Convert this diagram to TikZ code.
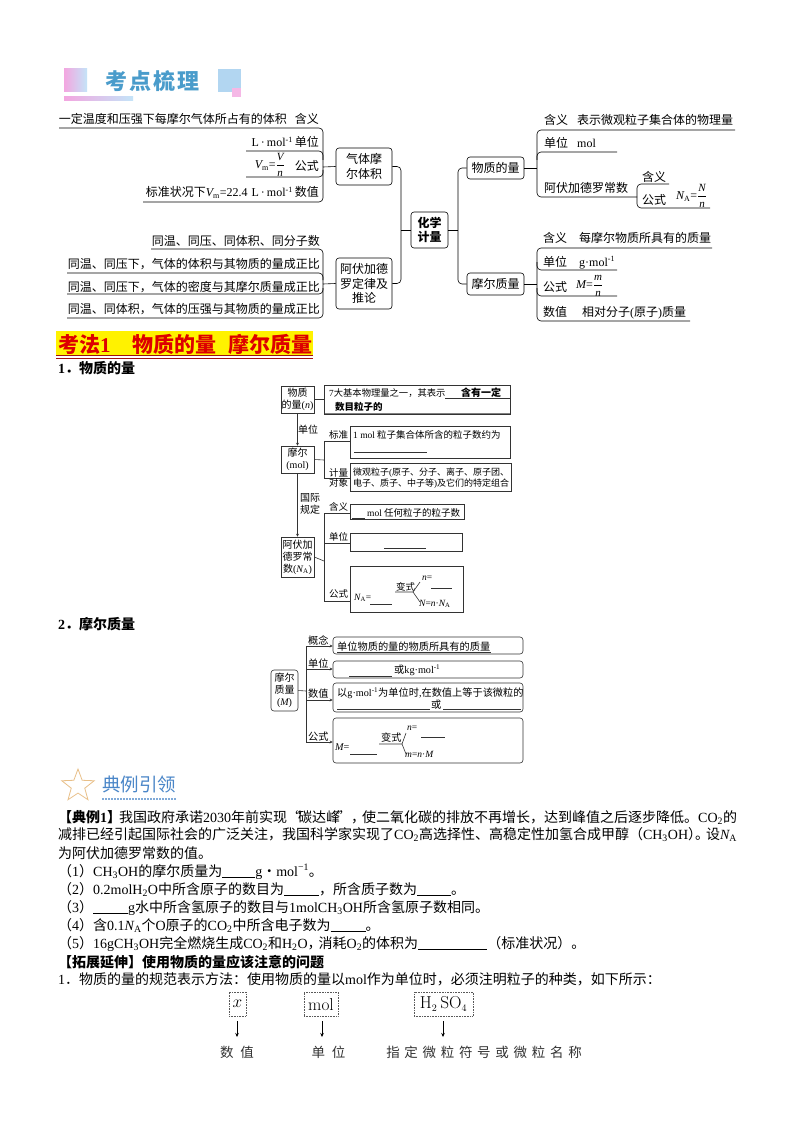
\documentclass[tikz,border=0pt]{standalone}
\usepackage[no-math]{fontspec}
\usepackage{xcolor}
\usepackage{tikz}
\usetikzlibrary{shapes.geometric, arrows.meta, positioning, calc}
\setmainfont{Noto Sans CJK SC}
\newfontfamily\lrfam{Liberation Serif}
\newcommand{\lr}[1]{{\lrfam #1}}
\newcommand{\lri}[1]{{\lrfam\itshape #1}}
\newcommand{\subr}[1]{\textsubscript{\lrfam #1}}
\newcommand{\supz}[1]{\textsuperscript{\lrfam #1}}
\newcommand{\frc}[2]{$\displaystyle\frac{\mbox{\lrfam\itshape\fontsize{11}{11}\selectfont #1}}{\mbox{\lrfam\itshape\fontsize{11}{11}\selectfont #2}}$}
\newcommand{\blk}[1]{\rule[-2pt]{#1pt}{0.6pt}}
\definecolor{titleblue}{HTML}{4A9CCB}
\definecolor{leadblue}{HTML}{4A86C8}
\definecolor{softpink}{HTML}{F3A6E0}
\definecolor{softblue}{HTML}{C4E4F8}
\definecolor{startan}{HTML}{E8BF88}
\definecolor{headred}{HTML}{DD0000}
\definecolor{rulered}{HTML}{A01010}
\tikzset{
  mapbox/.style={draw, rounded corners=3, line width=.6pt, inner sep=0, align=center, font=\fontsize{12}{14.5}\selectfont},
  smallbox/.style={draw=black!80, line width=.6pt, inner sep=0, align=center, font=\fontsize{10}{12}\selectfont},
  sheetbox/.style={draw=black!80, line width=.6pt, inner sep=0},
  softbox/.style={draw=black!80, rounded corners=3, line width=.6pt, inner sep=0},
  branch/.style={rounded corners=4, line width=.6pt},
  thinline/.style={line width=.6pt, black!80},
  tipline/.style={line width=.6pt, black!80, -{Stealth[length=3pt,width=3pt]}},
  maptext/.style={inner sep=0, anchor=base west, font=\fontsize{12}{12}\selectfont},
  mapright/.style={inner sep=0, anchor=base east, font=\fontsize{12}{12}\selectfont},
  sheettext/.style={inner sep=0, anchor=base west, font=\fontsize{9.5}{9.5}\selectfont},
  softtext/.style={inner sep=0, anchor=base west, font=\fontsize{10.2}{10.2}\selectfont},
  bodytext/.style={inner sep=0, anchor=base west, font=\fontsize{14}{14}\selectfont},
  boldtext/.style={inner sep=0, anchor=base west, font=\fontsize{14}{14}\selectfont\bfseries},
  dotbox/.style={draw=black!65, densely dotted, line width=.6pt, inner sep=0},
  wide/.style={inner sep=0, anchor=base, font=\fontsize{13.5}{13.5}\selectfont, black!80},
  arrowdown/.style={line width=.6pt, -{Stealth[length=4pt,width=3.5pt]}},
}

\begin{document}
\begin{tikzpicture}[x=1pt,y=-1pt]
  \useasboundingbox (0,0) rectangle (794,1123);
  \fill[white] (0,0) rectangle (794,1123);

  % Section banner
  \shade[left color=softpink, right color=softblue] (64,69) rectangle (87,92);
  \shade[left color=softpink, right color=softblue] (64,97) rectangle (133,101);
  \fill[softblue!85!leadblue] (218,69) rectangle (241,92);
  \fill[softpink!80] (232,88) rectangle (241,97);
  \node[inner sep=0, anchor=base west, titleblue, font=\fontsize{22}{22}\selectfont\bfseries] (bannertitle) at (105,90) {考\kern2pt 点\kern2pt 梳\kern2pt 理};

  % Central map
  \node[mapbox, font=\fontsize{12}{14.5}\selectfont\bfseries, minimum width=37, minimum height=36] (keybox) at (429.5,230) {化学\\计量};
  \node[mapbox, minimum width=56, minimum height=37] (gasbox) at (364,166.5) {气体摩\\尔体积};
  \node[mapbox, minimum width=56, minimum height=51] (avobox) at (364,283.5) {阿伏加德\\罗定律及\\推论};
  \node[mapbox, minimum width=57, minimum height=22] (amountbox) at (495.5,168) {物质的量};
  \node[mapbox, minimum width=57, minimum height=22] (massbox) at (495.5,284) {摩尔质量};
  \coordinate (leftjoin) at (401,230);
  \coordinate (rightjoin) at (458,230);
  \draw[branch] (gasbox.east) -| (leftjoin) |- (avobox.east);
  \draw[branch] (amountbox.west) -| (rightjoin) |- (massbox.west);
  \draw[line width=.6pt] (leftjoin) -- (keybox.west);
  \draw[line width=.6pt] (keybox.east) -- (rightjoin);

  % Molar volume branch
  \node[mapright] (gastextA) at (287,124) {一定温度和压强下每摩尔气体所占有的体积};
  \node[mapright] (gaslabA) at (319,124) {含义};
  \node[mapright] (gastextB) at (293,147) {\lr{L\,·\,mol}\supz{-1}};
  \node[mapright] (gaslabB) at (319,147) {单位};
  \node[mapright] (gastextC) at (285,168.5) {\lri{V}\subr{m}\lr{=}\frc{V}{n}};
  \node[mapright] (gaslabC) at (319,171) {公式};
  \node[mapright] (gastextD) at (293,197) {标准状况下\lri{V}\subr{m}\lr{=22.4\,\,L\,·\,mol}\supz{-1}};
  \node[mapright] (gaslabD) at (319,197) {数值};
  \foreach \name/\x/\y in {gasA/59/128, gasB/323/128, gasC/323/202, gasD/143/202, gasE/246/151, gasF/323/151, gasG/323/160, gasH/246/177, gasI/323/177, gasJ/323/170, gasK/323/167} {
    \coordinate (\name) at (\x,\y);
  }
  \draw[branch] (gasA) -- (gasB) -- (gasC) -- (gasD);
  \draw[branch] (gasE) -- (gasF) -- (gasG);
  \draw[branch] (gasH) -- (gasI) -- (gasJ);
  \draw[line width=.6pt] (gasK) -- (gasbox.west);

  % Avogadro law branch
  \node[mapright] (avotextA) at (320,245) {同温、同压、同体积、同分子数};
  \node[mapright] (avotextB) at (320,268) {同温、同压下，气体的体积与其物质的量成正比};
  \node[mapright] (avotextC) at (320,291) {同温、同压下，气体的密度与其摩尔质量成正比};
  \node[mapright] (avotextD) at (320,313) {同温、同体积，气体的压强与其物质的量成正比};
  \foreach \name/\x/\y in {avoA/151/249, avoB/323/249, avoC/323/318, avoD/67/318, avoE/67/273, avoF/323/273, avoG/323/280, avoH/67/294, avoI/323/294, avoJ/323/288, avoK/323/284} {
    \coordinate (\name) at (\x,\y);
  }
  \draw[branch] (avoA) -- (avoB) -- (avoC) -- (avoD);
  \draw[branch] (avoE) -- (avoF) -- (avoG);
  \draw[branch] (avoH) -- (avoI) -- (avoJ);
  \draw[line width=.6pt] (avoK) -- (avobox.west);

  % Amount of substance branch
  \node[maptext] (amtlabA) at (544,125) {含义};
  \node[maptext] (amttextA) at (577,125) {表示微观粒子集合体的物理量};
  \node[maptext] (amtlabB) at (544,148) {单位};
  \node[maptext] (amttextB) at (577,148) {\lr{mol}};
  \node[maptext] (amttextC) at (544,193) {阿伏加德罗常数};
  \node[maptext] (amtlabD) at (642,182) {含义};
  \node[maptext] (amtlabE) at (642,205) {公式};
  \node[maptext] (amttextE) at (676,199.5) {\lri{N}\subr{A}\lr{=}\frc{N}{n}};
  \foreach \name/\x/\y in {amtA/735/130, amtB/537/130, amtC/537/197, amtD/637/197, amtE/617/152, amtF/537/152, amtG/537/160, amtH/669/184, amtI/637/184, amtJ/637/208, amtK/710/208, amtL/537/168} {
    \coordinate (\name) at (\x,\y);
  }
  \draw[branch] (amtA) -- (amtB) -- (amtC) -- (amtD);
  \draw[branch] (amtE) -- (amtF) -- (amtG);
  \draw[branch] (amtH) -- (amtI) -- (amtJ) -- (amtK);
  \draw[line width=.6pt] (amountbox.east) -- (amtL);

  % Molar mass branch
  \node[maptext] (maslabA) at (543,243) {含义};
  \node[maptext] (mastextA) at (579,243) {每摩尔物质所具有的质量};
  \node[maptext] (maslabB) at (543,266) {单位};
  \node[maptext] (mastextB) at (579,266) {\lr{g·mol}\supz{-1}};
  \node[maptext] (maslabC) at (543,291) {公式};
  \node[maptext] (mastextC) at (576,288.5) {\lri{M}\lr{=}\frc{m}{n}};
  \node[maptext] (maslabD) at (543,316) {数值};
  \node[maptext] (mastextD) at (582,316) {相对分子\lr{(}原子\lr{)}质量};
  \foreach \name/\x/\y in {masA/712/248, masB/537/248, masC/537/321, masD/690/321, masE/617/270, masF/537/270, masG/537/262, masH/617/296, masI/537/296, masJ/537/288, masK/537/284} {
    \coordinate (\name) at (\x,\y);
  }
  \draw[branch] (masA) -- (masB) -- (masC) -- (masD);
  \draw[branch] (masE) -- (masF) -- (masG);
  \draw[branch] (masH) -- (masI) -- (masJ);
  \draw[line width=.6pt] (massbox.east) -- (masK);

  % Method heading
  \fill[yellow] (56,331) rectangle (313,356);
  \node[inner sep=0, anchor=base west, headred, font=\fontsize{21}{21}\selectfont\bfseries] (methodhead) at (58,352) {考法\lr{1}\kern22pt 物质的量\kern12pt 摩尔质量};
  \draw[rulered, line width=.8pt] (56,355.7) -- (313,355.7);
  \draw[rulered, line width=.8pt] (56,358.3) -- (313,358.3);
  \node[boldtext] (partone) at (58,373) {\lr{1}．物质的量};

  % Amount of substance sheet
  \node[smallbox, minimum width=33, minimum height=27] (nbox) at (297.5,399.5) {物质\\的量\lr{(}\lri{n}\lr{)}};
  \node[smallbox, minimum width=33, minimum height=27] (molbox) at (297.5,459.5) {摩尔\\\lr{(mol)}};
  \node[smallbox, minimum width=33, minimum height=40] (nabox) at (297.5,557) {阿伏加\\德罗常\\数\lr{(}\lri{N}\subr{A}\lr{)}};
  \draw[tipline] (nbox) -- (molbox);
  \draw[tipline] (molbox) -- (nabox);
  \node[smallbox, draw=none, anchor=center] (unitlab) at (308,430) {单位};
  \node[smallbox, draw=none, anchor=center] (rulelab) at (310,504) {国际\\规定};

  \node[sheetbox, minimum width=186, minimum height=29] (nmean) at (417,399.5) {};
  \node[sheettext, font=\fontsize{9.3}{9.3}\selectfont] (nmeantextA) at (329,396.5) {\lr{7}大基本物理量之一，其表示};
  \node[sheettext, font=\fontsize{10}{10}\selectfont\bfseries] (nmeantextB) at (461,396) {含有一定};
  \node[sheettext, font=\fontsize{9.5}{9.5}\selectfont\bfseries] (nmeantextC) at (335,410) {数目粒子的};
  \draw[thinline] (445,398) -- (510,398);
  \draw[black!50, line width=.6pt] (325,413) -- (510,413);
  \draw[thinline] (nbox.east) -- (nmean.west);

  \node[sheetbox, minimum width=160, minimum height=32] (stdbox) at (430,442) {};
  \node[sheettext] (stdtext) at (353,438.5) {\lr{1 mol} 粒子集合体所含的粒子数约为};
  \draw[thinline] (354,452) -- (427,452);
  \node[sheetbox, minimum width=161, minimum height=28] (objbox) at (430.5,477) {};
  \node[sheettext, font=\fontsize{9}{9}\selectfont] (objtextA) at (353,475.5) {微观粒子\lr{(}原子、分子、离子、原子团、};
  \node[sheettext, font=\fontsize{9}{9}\selectfont] (objtextB) at (353,486.5) {电子、质子、中子等\lr{)}及它们的特定组合};
  \foreach \name/\x/\y in {molA/324/460, molB/324/441, molC/350/441, molD/324/478, molE/350/478} {
    \coordinate (\name) at (\x,\y);
  }
  \draw[thinline] (molC) -- (molB) -- (molD) -- (molE);
  \draw[thinline] (molbox.east) -- (molA);
  \node[sheettext] (stdlab) at (329,438.5) {标准};
  \node[sheettext] (objlabA) at (329,476) {计量};
  \node[sheettext] (objlabB) at (329,486.5) {对象};

  \node[sheetbox, minimum width=114, minimum height=15] (meanbox) at (407,511.5) {};
  \node[sheettext] (meantext) at (367,516.5) {\lr{mol} 任何粒子的粒子数};
  \draw[thinline] (352,518) -- (365,518);
  \node[sheetbox, minimum width=112, minimum height=18] (unitbox) at (406,542) {};
  \draw[thinline] (384,548) -- (426,548);
  \node[sheetbox, minimum width=113, minimum height=46] (formbox) at (406.5,589) {};
  \node[sheettext] (formtextA) at (354,600) {\lri{N}\subr{A}\lr{=}};
  \draw[thinline] (370,604) -- (392,604);
  \node[sheettext] (formvar) at (396,590) {变式};
  \node[sheettext] (formtop) at (422,580) {\lri{n}\lr{=}};
  \draw[thinline] (431,588) -- (452,588);
  \node[sheettext] (formbot) at (419,606) {\lri{N}\lr{=}\lri{n}\lr{·}\lri{N}\subr{A}};
  \coordinate (forkA) at (395,592);
  \coordinate (forkB) at (413,592);
  \coordinate (forkC) at (420,582);
  \coordinate (forkD) at (420,602);
  \draw[thinline] (forkA) -- (forkB) -- (forkC);
  \draw[thinline] (forkB) -- (forkD);
  \foreach \name/\x/\y in {naA/324/561, naB/324/513, naC/350/513, naD/324/601, naE/350/601, naF/324/543, naG/350/543} {
    \coordinate (\name) at (\x,\y);
  }
  \draw[thinline] (naC) -- (naB) -- (naD) -- (naE);
  \draw[thinline] (naF) -- (naG);
  \draw[thinline] (nabox.east) -- (naA);
  \node[sheettext] (meanlab) at (329,510.5) {含义};
  \node[sheettext] (unitlabB) at (329,540.5) {单位};
  \node[sheettext] (formlab) at (329,597.5) {公式};

  \node[boldtext] (parttwo) at (58,629) {\lr{2}．摩尔质量};

  % Molar mass sheet
  \node[smallbox, rounded corners=3, minimum width=27, minimum height=41] (mbox) at (284.5,690.5) {摩尔\\质量\\\lr{(}\lri{M}\lr{)}};
  \node[softbox, minimum width=190, minimum height=17] (softA) at (428,645.5) {};
  \node[softbox, minimum width=190, minimum height=17] (softB) at (428,669.5) {};
  \node[softbox, minimum width=190, minimum height=29] (softC) at (428,697.5) {};
  \node[softbox, minimum width=190, minimum height=45] (softD) at (428,740.5) {};
  \foreach \name/\y in {spineA/646, spineB/669, spineC/700, spineD/742, spineE/691} {
    \coordinate (\name) at (306,\y);
  }
  \draw[thinline] (spineA) -- (spineD);
  \draw[thinline] (mbox.east) -- (spineE);
  \draw[tipline] (spineA) -- (softA.west |- spineA);
  \draw[tipline] (spineB) -- (softB.west |- spineB);
  \draw[tipline] (spineC) -- (softC.west |- spineC);
  \draw[tipline] (spineD) -- (softD.west |- spineD);
  \node[softtext] (softlabA) at (308,644.5) {概念};
  \node[softtext] (softlabB) at (308,667) {单位};
  \node[softtext] (softlabC) at (308,697) {数值};
  \node[softtext] (softlabD) at (308,740) {公式};
  \node[softtext] (softtextA) at (337,650.5) {单位物质的量的物质所具有的质量};
  \draw[thinline] (337,652.5) -- (491,652.5);
  \draw[thinline] (349,676) -- (392,676);
  \node[softtext] (softtextB) at (394,673) {或\lr{kg·mol}\supz{-1}};
  \node[softtext] (softtextC) at (337,696) {以\lr{g·mol}\supz{-1}为单位时\lr{,}在数值上等于该微粒的};
  \draw[thinline] (337,709) -- (430,709);
  \node[softtext] (softtextD) at (431,708) {或};
  \draw[thinline] (443,709) -- (521,709);
  \node[softtext] (softtextE) at (335,750.5) {\lri{M}\lr{=}};
  \draw[thinline] (350,754) -- (377,754);
  \node[softtext] (softvar) at (381,741) {变式};
  \node[softtext, font=\fontsize{9.5}{9.5}\selectfont] (softtop) at (407,730) {\lri{n}\lr{=}};
  \draw[thinline] (421,737) -- (445,737);
  \node[softtext, font=\fontsize{9.5}{9.5}\selectfont] (softbot) at (405,757) {\lri{m}\lr{=}\lri{n}\lr{·}\lri{M}};
  \coordinate (softforkA) at (379,744);
  \coordinate (softforkB) at (402,744);
  \coordinate (softforkC) at (406,733);
  \coordinate (softforkD) at (406,754);
  \draw[thinline] (softforkA) -- (softforkB) -- (softforkC);
  \draw[thinline] (softforkB) -- (softforkD);

  % Lead-in with star
  \node[star, star points=5, star point ratio=2.4, draw=startan, line width=.8pt, inner sep=0, minimum size=34] (leadstar) at (78,786) {};
  \node[inner sep=0, anchor=base west, leadblue, font=\fontsize{18.5}{18.5}\selectfont] (leadtitle) at (102,791) {典例引领};
  \draw[leadblue!70, dash pattern=on 2pt off 1pt, line width=1.5pt] (102,799) -- (176,799);

  % Worked example text
  \node[bodytext] (lineA) at (58,822) {\textbf{【典例\lr{1}】}\kern-2pt 我国政府承诺\lr{2030}年前实现“\kern-3pt 碳达峰\kern-3pt ”，\kern-3pt 使二氧化碳的排放不再增长，达到峰值之后逐步降低。\lr{CO}\subr{2}的};
  \node[bodytext] (lineB) at (58,839.5) {减排已经引起国际社会的广泛关注，我国科学家实现了\lr{CO}\subr{2}高选择性、高稳定性加氢合成甲醇（\lr{CH}\subr{3}\lr{OH}）\kern-7pt 。\kern-3pt 设\lri{N}\subr{A}};
  \node[bodytext] (lineC) at (58,858) {为阿伏加德罗常数的值。};
  \node[bodytext] (questA) at (58,876) {（\lr{1}）\lr{CH}\subr{3}\lr{OH}的摩尔质量为\blk{33}\lr{g}・\lr{mol}\supz{−1}。};
  \node[bodytext] (questB) at (58,894) {（\lr{2}）\lr{0.2molH}\subr{2}\lr{O}中所含原子的数目为\blk{35}，所含质子数为\blk{34}。};
  \node[bodytext] (questC) at (58,912) {（\lr{3}）\blk{35}\lr{g}水中所含氢原子的数目与\lr{1molCH}\subr{3}\lr{OH}所含氢原子数相同。};
  \node[bodytext] (questD) at (58,930) {（\lr{4}）含\lr{0.1}\lri{N}\subr{A}个\lr{O}原子的\lr{CO}\subr{2}中所含电子数为\blk{35}。};
  \node[bodytext] (questE) at (58,948) {（\lr{5}）\lr{16gCH}\subr{3}\lr{OH}完全燃烧生成\lr{CO}\subr{2}和\lr{H}\subr{2}\lr{O}，\kern-3pt 消耗\lr{O}\subr{2}的体积为\blk{69}（标准状况）。};
  \node[boldtext] (extendhead) at (58,967) {【拓展延伸】使用物质的量应该注意的问题};
  \node[bodytext] (extendline) at (58,984) {\lr{1}．物质的量的规范表示方法：使用物质的量以\lr{mol}作为单位时，必须注明粒子的种类，如下所示：};

  % Notation example
  \node[dotbox, minimum width=17, minimum height=24] (xbox) at (237.5,1004) {\fontsize{17.28}{17.28}\selectfont$x$};
  \node[dotbox, minimum width=34, minimum height=24] (unitdot) at (321,1004) {\fontsize{17.28}{17.28}\selectfont$\mathrm{mol}$};
  \node[dotbox, minimum width=59, minimum height=24] (chemdot) at (443.5,1004) {\fontsize{17.28}{17.28}\selectfont$\mathrm{H_{\scriptscriptstyle 2}\,SO_{\scriptscriptstyle 4}}$};
  \node[wide] (xname) at (237,1057) {数\kern7pt 值};
  \node[wide] (unitname) at (328.5,1057) {单\kern7pt 位};
  \node[wide] (chemname) at (484,1057) {指\kern4.7pt 定\kern4.7pt 微\kern4.7pt 粒\kern4.7pt 符\kern4.7pt 号\kern4.7pt 或\kern4.7pt 微\kern4.7pt 粒\kern4.7pt 名\kern4.7pt 称};
  \coordinate (xfoot) at (237,1021);
  \coordinate (unitfoot) at (322,1021);
  \coordinate (chemfoot) at (443,1021);
  \coordinate (xtip) at (237,1037);
  \coordinate (unittip) at (322,1037);
  \coordinate (chemtip) at (443,1037);
  \draw[arrowdown] (xfoot) -- (xtip);
  \draw[arrowdown] (unitfoot) -- (unittip);
  \draw[arrowdown] (chemfoot) -- (chemtip);
\end{tikzpicture}
\end{document}
